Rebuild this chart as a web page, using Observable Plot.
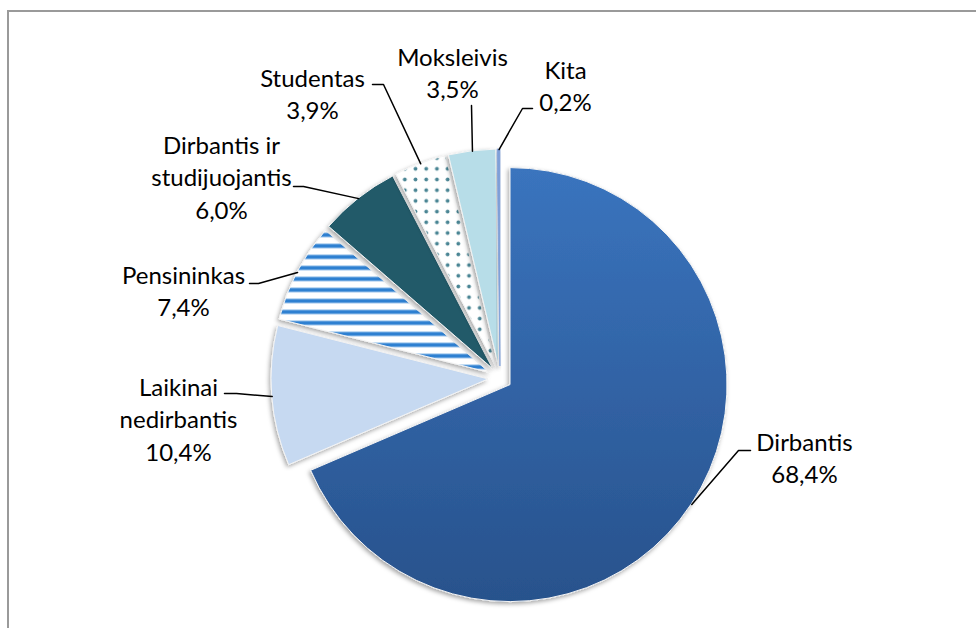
<!DOCTYPE html>
<html><head><meta charset="utf-8">
<script src="https://cdn.jsdelivr.net/npm/d3@7"></script>
<script src="https://cdn.jsdelivr.net/npm/@observablehq/plot@0.6"></script>
<style>
body{margin:0;background:#fff;}
#frame{position:absolute;left:7px;top:10px;width:990px;height:640px;border-left:2px solid #9a9a9a;border-top:2px solid #9a9a9a;}
#chart{position:absolute;left:0;top:0;}
</style></head><body>
<div id="frame"></div><div id="chart"></div>
<script>
// ---- data ----
const categories = ["Dirbantis","Laikinai nedirbantis","Pensininkas","Dirbantis ir studijuojantis","Studentas","Moksleivis","Kita"];
const values = [68.4, 10.4, 7.4, 6.0, 3.9, 3.5, 0.2];
const labelLines = [["Dirbantis"],["Laikinai","nedirbantis"],["Pensininkas"],["Dirbantis ir","studijuojantis"],["Studentas"],["Moksleivis"],["Kita"]];

// ---- layout (pixel units) ----
const pieCenter = {x: 500, y: 378};
const pieRadius = 217;
const explode = 12;
const fontSize = 24;
const lineGap = 32.5;
// label text centre x, first baseline y, leader start + elbow
const labelLayout = [
  {cx: 804, by: 450, lead: [[750,450],[738,450]]},
  {cx: 178, by: 395, lead: [[224,393],[236,393]]},
  {cx: 183, by: 283, lead: [[249,283],[258,283]]},
  {cx: 221, by: 153, lead: [[293,186],[303,186]]},
  {cx: 312, by: 86,  lead: [[372,84],[383,84]]},
  {cx: 452, by: 65,  lead: [[471,105]]},
  {cx: 565, by: 78,  lead: [[532,108],[522,108]]}
];
const fills = ["url(#gradDirb)", "#c6d9f1", "url(#stripes)", "#215a69", "url(#dots)", "#b7dde8", "#7f9fd8"];

const fmt = v => v.toFixed(1).replace(".", ",") + "%";
const arcs = d3.pie().sort(null).value(d => d)(values);
const slices = arcs.map((a, i) => {
  const mid = (a.startAngle + a.endAngle) / 2;
  const dx = Math.sin(mid), dy = -Math.cos(mid);
  return {i, name: categories[i], start: a.startAngle, end: a.endAngle, dx, dy,
    ox: pieCenter.x + explode * dx, oy: pieCenter.y + explode * dy};
});

// leader lines
const leaders = [];
slices.forEach((s, i) => {
  const pts = labelLayout[i].lead.map(p => ({x: p[0], y: p[1], k: i}));
  pts.push({x: s.ox + pieRadius * s.dx, y: s.oy + pieRadius * s.dy, k: i});
  leaders.push(...pts);
});

// text lines
const texts = [];
labelLines.forEach((lines, i) => {
  const all = [...lines, fmt(values[i])];
  all.forEach((t, j) => texts.push({t, x: labelLayout[i].cx, y: labelLayout[i].by + j * lineGap}));
});

function pieMark(index, scales, vals, dims, context) {
  const doc = context.document;
  const g = d3.select(doc.createElementNS("http://www.w3.org/2000/svg", "g"));
  const defs = g.append("defs");
  const rpx = scales.x(pieCenter.x + pieRadius) - scales.x(pieCenter.x);
  const gr = defs.append("linearGradient").attr("id", "gradDirb").attr("gradientUnits", "userSpaceOnUse")
    .attr("x1", 0).attr("x2", 0).attr("y1", -rpx).attr("y2", rpx);
  gr.append("stop").attr("offset", "0%").attr("stop-color", "#3a74be");
  gr.append("stop").attr("offset", "100%").attr("stop-color", "#28528c");
  const st = defs.append("pattern").attr("id", "stripes").attr("patternUnits", "userSpaceOnUse")
    .attr("width", 20).attr("height", 11);
  st.append("rect").attr("width", 20).attr("height", 11).attr("fill", "#fff");
  st.append("rect").attr("y", 3).attr("width", 20).attr("height", 5).attr("fill", "#8fbce8");
  st.append("rect").attr("y", 4).attr("width", 20).attr("height", 3).attr("fill", "#2f80d1");
  const dt = defs.append("pattern").attr("id", "dots").attr("patternUnits", "userSpaceOnUse")
    .attr("width", 10.7).attr("height", 10.7);
  dt.append("rect").attr("width", 10.7).attr("height", 10.7).attr("fill", "#fff");
  dt.append("circle").attr("cx", 5.3).attr("cy", 5.3).attr("r", 1.9).attr("fill", "#4a8594");
  const f = defs.append("filter").attr("id", "shadow").attr("x", "-20%").attr("y", "-20%").attr("width", "140%").attr("height", "140%");
  f.append("feDropShadow").attr("dx", -1.5).attr("dy", 2).attr("stdDeviation", 2)
    .attr("flood-color", "#000").attr("flood-opacity", 0.35);
  const arc = d3.arc().innerRadius(0).outerRadius(rpx);
  g.selectAll("path").data(slices).join("path")
    .attr("transform", d => `translate(${scales.x(d.ox)},${scales.y(d.oy)})`)
    .attr("d", d => arc({startAngle: d.start, endAngle: d.end}))
    .attr("fill", d => fills[d.i])
    .attr("stroke", d => d.i === 6 ? "#7f9fd8" : "#f4f4f4")
    .attr("stroke-width", d => d.i === 6 ? 0.8 : 1)
    .attr("filter", "url(#shadow)");
  return g.node();
}

const chart = Plot.plot({
  width: 976, height: 628, margin: 0,
  x: {domain: [0, 976], range: [0, 976], axis: null},
  y: {domain: [0, 628], range: [0, 628], axis: null},
  style: {background: "transparent", fontFamily: "Lato, sans-serif"},
  marks: [
    pieMark,
    Plot.line(leaders, {x: "x", y: "y", z: "k", stroke: "#000", strokeWidth: 1.5}),
    Plot.text(texts, {x: "x", y: "y", text: "t", fontSize: fontSize, fill: "#000", lineAnchor: "bottom", textAnchor: "middle"})
  ]
});
document.getElementById("chart").appendChild(chart);
</script>
</body></html>
